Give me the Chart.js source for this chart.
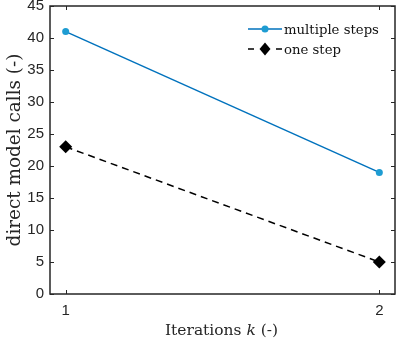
<!DOCTYPE html>
<html><head><meta charset="utf-8">
<script src="https://cdn.jsdelivr.net/npm/chart.js@4.4.1/dist/chart.umd.min.js"></script>
<style>html,body{margin:0;padding:0;background:#fff}#wrap{width:398px;height:341px}</style>
</head><body><div id="wrap"><canvas id="c" width="398" height="341"></canvas></div>
<script>
const iterations = [1, 2];
const multipleSteps = [41, 19];
const oneStep = [23, 5];
const xTicks = [1, 2];
const yTicks = [0, 5, 10, 15, 20, 25, 30, 35, 40, 45];
const seriesNames = ['multiple steps', 'one step'];
const xTitleParts = ['Iterations ', 'k', ' (-)'];
const yTitle = 'direct model calls (-)';

const AX = '#262626';
const SERIF = '"DejaVu Serif", "Liberation Serif", serif';

function fitSize(ctx, text, target, style) {
  ctx.font = (style || '') + '16px ' + SERIF;
  return 16 * target / ctx.measureText(text).width;
}

const decor = {
  id: 'decor',
  afterDraw(chart) {
    const ctx = chart.ctx, a = chart.chartArea;
    const xs = chart.scales.x, ys = chart.scales.y;
    ctx.save();
    ctx.strokeStyle = AX; ctx.lineWidth = 1.5;
    ctx.strokeRect(a.left, a.top, a.right - a.left, a.bottom - a.top);
    ctx.lineWidth = 1;
    ctx.beginPath();
    const tl = 4;
    yTicks.forEach(v => {
      const y = Math.round(ys.getPixelForValue(v)) + 0.5;
      ctx.moveTo(a.left, y); ctx.lineTo(a.left + tl, y);
      ctx.moveTo(a.right, y); ctx.lineTo(a.right - tl, y);
    });
    xTicks.forEach(v => {
      const x = Math.round(xs.getPixelForValue(v)) + 0.5;
      ctx.moveTo(x, a.bottom); ctx.lineTo(x, a.bottom - tl);
      ctx.moveTo(x, a.top); ctx.lineTo(x, a.top + tl);
    });
    ctx.stroke();

    // axis titles
    ctx.fillStyle = AX;
    ctx.textBaseline = 'alphabetic';
    const fs = fitSize(ctx, xTitleParts.join(''), 113);
    const normal = fs + 'px ' + SERIF, ital = 'italic ' + fs + 'px ' + SERIF;
    ctx.font = normal;
    const w0 = ctx.measureText(xTitleParts[0]).width;
    const w2 = ctx.measureText(xTitleParts[2]).width;
    ctx.font = ital;
    const w1 = ctx.measureText(xTitleParts[1]).width;
    const total = w0 + w1 + w2;
    let x = 165 + (113 - total) / 2;
    const by = 335;
    ctx.textAlign = 'left';
    ctx.font = normal; ctx.fillText(xTitleParts[0], x, by); x += w0;
    ctx.font = ital; ctx.fillText(xTitleParts[1], x, by); x += w1;
    ctx.font = normal; ctx.fillText(xTitleParts[2], x, by);

    const fy = fitSize(ctx, yTitle, 193);
    ctx.save();
    ctx.translate(20, 150);
    ctx.rotate(-Math.PI / 2);
    ctx.textAlign = 'center';
    ctx.font = fy + 'px ' + SERIF;
    ctx.fillText(yTitle, 0, 0);
    ctx.restore();

    // legend
    const fl = fitSize(ctx, seriesNames[0], 95);
    ctx.font = fl + 'px ' + SERIF;
    ctx.textAlign = 'left';
    ctx.textBaseline = 'alphabetic';
    const lx0 = 248, lx1 = 282, mx = 265, tx = 284;
    const rows = [29, 49];
    // row 1
    ctx.strokeStyle = '#0072BD'; ctx.lineWidth = 1.5; ctx.setLineDash([]);
    ctx.beginPath(); ctx.moveTo(lx0, rows[0]); ctx.lineTo(lx1, rows[0]); ctx.stroke();
    ctx.fillStyle = '#1E9CD2';
    ctx.beginPath(); ctx.arc(mx, rows[0], 3.5, 0, Math.PI * 2); ctx.fill();
    ctx.fillStyle = '#111';
    ctx.fillText(seriesNames[0], tx, rows[0] + 5);
    // row 2
    ctx.strokeStyle = '#000';
    ctx.beginPath();
    ctx.moveTo(lx0, rows[1]); ctx.lineTo(lx0 + 6, rows[1]);
    ctx.moveTo(lx1 - 6, rows[1]); ctx.lineTo(lx1, rows[1]);
    ctx.stroke();
    ctx.fillStyle = '#000';
    ctx.beginPath();
    ctx.moveTo(mx, rows[1] - 6.5); ctx.lineTo(mx + 5.5, rows[1]);
    ctx.lineTo(mx, rows[1] + 6.5); ctx.lineTo(mx - 5.5, rows[1]); ctx.closePath(); ctx.fill();
    ctx.fillStyle = '#111';
    ctx.fillText(seriesNames[1], tx, rows[1] + 5);
    ctx.restore();
  }
};

new Chart(document.getElementById('c'), {
  type: 'line',
  data: {
    datasets: [
      {
        label: seriesNames[0],
        data: iterations.map((v, i) => ({ x: v, y: multipleSteps[i] })),
        borderColor: '#0072BD', borderWidth: 1.5,
        pointStyle: 'circle', pointRadius: 3.5,
        pointBackgroundColor: '#1E9CD2', pointBorderColor: '#1E9CD2', pointBorderWidth: 0,
        tension: 0, clip: false
      },
      {
        label: seriesNames[1],
        data: iterations.map((v, i) => ({ x: v, y: oneStep[i] })),
        borderColor: '#000', borderWidth: 1.5, borderDash: [7, 5],
        pointStyle: 'rectRot', pointRadius: 6.5,
        pointBackgroundColor: '#000', pointBorderColor: '#000', pointBorderWidth: 0,
        tension: 0, clip: false
      }
    ]
  },
  options: {
    responsive: false, animation: false, devicePixelRatio: 1,
    layout: { autoPadding: false, padding: { left: 0, right: 3, top: 6, bottom: 0 } },
    plugins: { legend: { display: false }, tooltip: { enabled: false } },
    scales: {
      x: {
        type: 'linear', min: 0.95, max: 2.05,
        afterBuildTicks: s => { s.ticks = xTicks.map(v => ({ value: v })); },
        afterFit: s => { s.height = 47; s.paddingLeft = 0; s.paddingRight = 0; },
        grid: { display: false, drawTicks: false },
        border: { display: false },
        ticks: { padding: 8, color: AX, font: { family: '"Liberation Sans", Arial, sans-serif', size: 15 }, maxRotation: 0 }
      },
      y: {
        type: 'linear', min: 0, max: 45,
        afterBuildTicks: s => { s.ticks = yTicks.map(v => ({ value: v })); },
        afterFit: s => { s.width = 50; s.paddingTop = 0; s.paddingBottom = 0; },
        grid: { display: false, drawTicks: false },
        border: { display: false },
        ticks: { padding: 6, color: AX, font: { family: '"Liberation Sans", Arial, sans-serif', size: 15 } }
      }
    }
  },
  plugins: [decor]
});
</script></body></html>
